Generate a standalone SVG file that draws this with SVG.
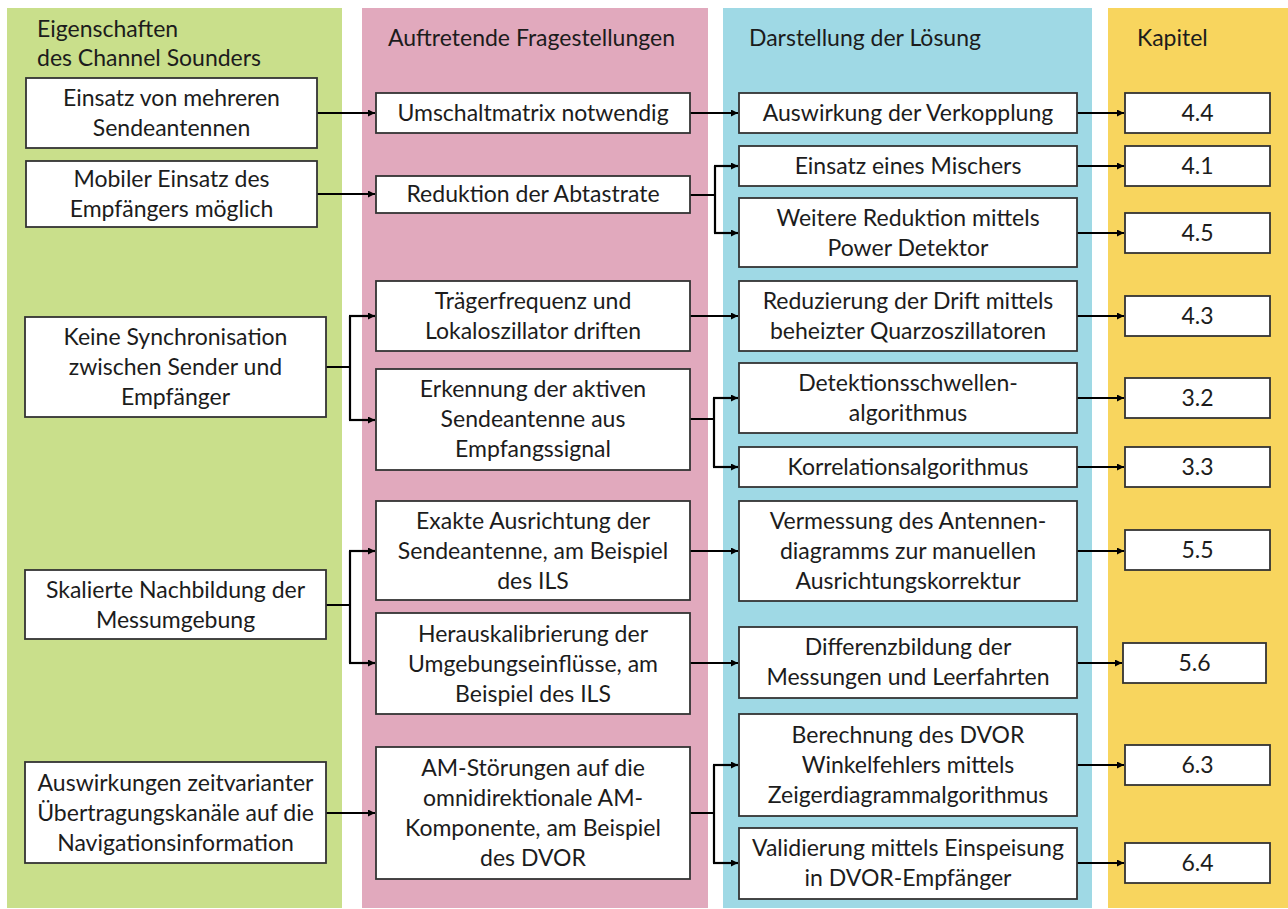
<svg xmlns="http://www.w3.org/2000/svg" width="1288" height="909" viewBox="0 0 1288 909">
<defs>
<style>
text{font-family:Lato,"Open Sans","Liberation Sans",sans-serif;font-size:23px;fill:#1c1c1c}
.c{text-anchor:middle}
.box{fill:#fff;stroke:#333;stroke-width:1.8}
.ln{fill:none;stroke:#000;stroke-width:2.2}
</style>
<marker id="ah" viewBox="0 0 10 10" refX="10" refY="5" markerWidth="9" markerHeight="7" markerUnits="userSpaceOnUse" orient="auto">
<path d="M0,0 L10,5 L0,10 z" fill="#000"/>
</marker>
</defs>
<rect width="1288" height="909" fill="#fff"/>
<g id="columns">
<rect x="7" y="8" width="335" height="900" fill="#c9df8b"/>
<rect x="362" y="8" width="346" height="900" fill="#e1a9bd"/>
<rect x="723" y="8" width="369" height="900" fill="#9fd9e5"/>
<rect x="1108" y="8" width="180" height="900" fill="#f8d55e"/>
<text x="37" y="37">Eigenschaften</text>
<text x="37" y="66">des Channel Sounders</text>
<text x="388" y="46">Auftretende Fragestellungen</text>
<text x="749" y="46">Darstellung der Lösung</text>
<text x="1137" y="46">Kapitel</text>
</g>
<g id="connectors">
<path class="ln" marker-end="url(#ah)" d="M317,113 H375"/>
<path class="ln" marker-end="url(#ah)" d="M317,194 H375"/>
<path class="ln" d="M326,367 H350 M350,316 V420"/>
<path class="ln" marker-end="url(#ah)" d="M349,316 H375"/>
<path class="ln" marker-end="url(#ah)" d="M349,420 H375"/>
<path class="ln" d="M326,605 H350 M350,551 V663"/>
<path class="ln" marker-end="url(#ah)" d="M349,551 H375"/>
<path class="ln" marker-end="url(#ah)" d="M349,663 H375"/>
<path class="ln" marker-end="url(#ah)" d="M326,813 H375"/>
<path class="ln" marker-end="url(#ah)" d="M690,113 H738"/>
<path class="ln" d="M690,195 H715 M715,166 V233"/>
<path class="ln" marker-end="url(#ah)" d="M714,166 H738"/>
<path class="ln" marker-end="url(#ah)" d="M714,233 H738"/>
<path class="ln" marker-end="url(#ah)" d="M690,316 H738"/>
<path class="ln" d="M690,419 H714 M714,398 V467"/>
<path class="ln" marker-end="url(#ah)" d="M713,398 H738"/>
<path class="ln" marker-end="url(#ah)" d="M713,467 H738"/>
<path class="ln" marker-end="url(#ah)" d="M690,551 H738"/>
<path class="ln" marker-end="url(#ah)" d="M690,663 H738"/>
<path class="ln" d="M690,813 H714 M714,765 V863"/>
<path class="ln" marker-end="url(#ah)" d="M713,765 H738"/>
<path class="ln" marker-end="url(#ah)" d="M713,863 H738"/>
<path class="ln" marker-end="url(#ah)" d="M1077,113 H1124"/>
<path class="ln" marker-end="url(#ah)" d="M1077,166 H1124"/>
<path class="ln" marker-end="url(#ah)" d="M1077,233 H1124"/>
<path class="ln" marker-end="url(#ah)" d="M1077,316 H1124"/>
<path class="ln" marker-end="url(#ah)" d="M1077,398 H1124"/>
<path class="ln" marker-end="url(#ah)" d="M1077,467 H1124"/>
<path class="ln" marker-end="url(#ah)" d="M1077,551 H1124"/>
<path class="ln" marker-end="url(#ah)" d="M1077,663 H1122"/>
<path class="ln" marker-end="url(#ah)" d="M1077,765 H1124"/>
<path class="ln" marker-end="url(#ah)" d="M1077,863 H1124"/>
</g>
<g id="a1"><rect class="box" x="26" y="78" width="291" height="70"/><text class="c" x="171.5" y="106">Einsatz von mehreren</text><text class="c" x="171.5" y="136">Sendeantennen</text></g>
<g id="a2"><rect class="box" x="26" y="161" width="291" height="66"/><text class="c" x="171.5" y="187">Mobiler Einsatz des</text><text class="c" x="171.5" y="217">Empfängers möglich</text></g>
<g id="a3"><rect class="box" x="25" y="317" width="301" height="100"/><text class="c" x="175.5" y="345">Keine Synchronisation</text><text class="c" x="175.5" y="375">zwischen Sender und</text><text class="c" x="175.5" y="405">Empfänger</text></g>
<g id="a4"><rect class="box" x="25" y="570" width="301" height="69"/><text class="c" x="175.5" y="598">Skalierte Nachbildung der</text><text class="c" x="175.5" y="628">Messumgebung</text></g>
<g id="a5"><rect class="box" x="25" y="762" width="301" height="101"/><text class="c" x="175.5" y="791">Auswirkungen zeitvarianter</text><text class="c" x="175.5" y="821">Übertragungskanäle auf die</text><text class="c" x="175.5" y="851">Navigationsinformation</text></g>
<g id="b1"><rect class="box" x="376" y="93" width="314" height="40"/><text class="c" x="533" y="121">Umschaltmatrix notwendig</text></g>
<g id="b2"><rect class="box" x="376" y="176" width="314" height="37"/><text class="c" x="533" y="202">Reduktion der Abtastrate</text></g>
<g id="b3"><rect class="box" x="376" y="281" width="314" height="70"/><text class="c" x="533" y="309">Trägerfrequenz und</text><text class="c" x="533" y="339">Lokaloszillator driften</text></g>
<g id="b4"><rect class="box" x="376" y="369" width="314" height="101"/><text class="c" x="533" y="397">Erkennung der aktiven</text><text class="c" x="533" y="427">Sendeantenne aus</text><text class="c" x="533" y="457">Empfangssignal</text></g>
<g id="b5"><rect class="box" x="376" y="501" width="314" height="99"/><text class="c" x="533" y="529">Exakte Ausrichtung der</text><text class="c" x="533" y="559">Sendeantenne, am Beispiel</text><text class="c" x="533" y="589">des ILS</text></g>
<g id="b6"><rect class="box" x="376" y="613" width="314" height="101"/><text class="c" x="533" y="642">Herauskalibrierung der</text><text class="c" x="533" y="672">Umgebungseinflüsse, am</text><text class="c" x="533" y="702">Beispiel des ILS</text></g>
<g id="b7"><rect class="box" x="376" y="747" width="314" height="132"/><text class="c" x="533" y="776">AM-Störungen auf die</text><text class="c" x="533" y="806">omnidirektionale AM-</text><text class="c" x="533" y="836">Komponente, am Beispiel</text><text class="c" x="533" y="866">des DVOR</text></g>
<g id="s1"><rect class="box" x="739" y="93" width="338" height="40"/><text class="c" x="908" y="121">Auswirkung der Verkopplung</text></g>
<g id="s2"><rect class="box" x="739" y="146" width="338" height="40"/><text class="c" x="908" y="174">Einsatz eines Mischers</text></g>
<g id="s3"><rect class="box" x="739" y="198" width="338" height="69"/><text class="c" x="908" y="226">Weitere Reduktion mittels</text><text class="c" x="908" y="256">Power Detektor</text></g>
<g id="s4"><rect class="box" x="739" y="281" width="338" height="70"/><text class="c" x="908" y="309">Reduzierung der Drift mittels</text><text class="c" x="908" y="339">beheizter Quarzoszillatoren</text></g>
<g id="s5"><rect class="box" x="739" y="363" width="338" height="70"/><text class="c" x="908" y="391">Detektionsschwellen-</text><text class="c" x="908" y="421">algorithmus</text></g>
<g id="s6"><rect class="box" x="739" y="447" width="338" height="40"/><text class="c" x="908" y="475">Korrelationsalgorithmus</text></g>
<g id="s7"><rect class="box" x="739" y="501" width="338" height="100"/><text class="c" x="908" y="529">Vermessung des Antennen-</text><text class="c" x="908" y="559">diagramms zur manuellen</text><text class="c" x="908" y="589">Ausrichtungskorrektur</text></g>
<g id="s8"><rect class="box" x="739" y="627" width="338" height="71"/><text class="c" x="908" y="655">Differenzbildung der</text><text class="c" x="908" y="685">Messungen und Leerfahrten</text></g>
<g id="s9"><rect class="box" x="739" y="714" width="338" height="102"/><text class="c" x="908" y="743">Berechnung des DVOR</text><text class="c" x="908" y="773">Winkelfehlers mittels</text><text class="c" x="908" y="803">Zeigerdiagrammalgorithmus</text></g>
<g id="s10"><rect class="box" x="739" y="828" width="338" height="71"/><text class="c" x="908" y="856">Validierung mittels Einspeisung</text><text class="c" x="908" y="886">in DVOR-Empfänger</text></g>
<g id="k44"><rect class="box" x="1125" y="93" width="145" height="40"/><text class="c" x="1197.5" y="121">4.4</text></g>
<g id="k41"><rect class="box" x="1125" y="146" width="145" height="40"/><text class="c" x="1197.5" y="174">4.1</text></g>
<g id="k45"><rect class="box" x="1125" y="213" width="145" height="40"/><text class="c" x="1197.5" y="241">4.5</text></g>
<g id="k43"><rect class="box" x="1125" y="296" width="145" height="40"/><text class="c" x="1197.5" y="324">4.3</text></g>
<g id="k32"><rect class="box" x="1125" y="378" width="145" height="40"/><text class="c" x="1197.5" y="406">3.2</text></g>
<g id="k33"><rect class="box" x="1125" y="447" width="145" height="40"/><text class="c" x="1197.5" y="475">3.3</text></g>
<g id="k55"><rect class="box" x="1125" y="530" width="145" height="40"/><text class="c" x="1197.5" y="558">5.5</text></g>
<g id="k56"><rect class="box" x="1123" y="643" width="143" height="40"/><text class="c" x="1194.5" y="671">5.6</text></g>
<g id="k63"><rect class="box" x="1125" y="745" width="145" height="40"/><text class="c" x="1197.5" y="773">6.3</text></g>
<g id="k64"><rect class="box" x="1125" y="843" width="145" height="40"/><text class="c" x="1197.5" y="871">6.4</text></g>
</svg>
